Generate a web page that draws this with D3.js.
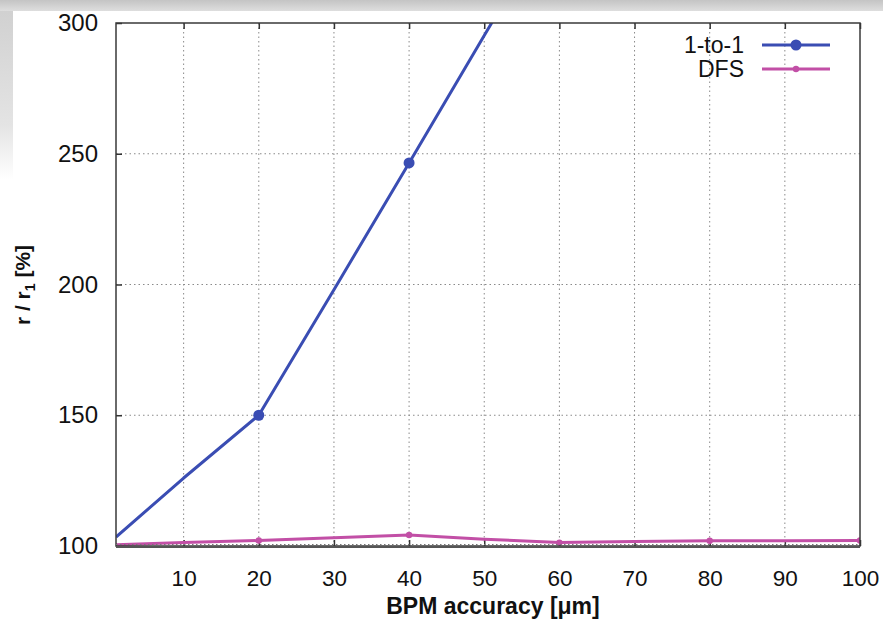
<!DOCTYPE html>
<html>
<head>
<meta charset="utf-8">
<script src="https://cdn.jsdelivr.net/npm/d3@7"></script>
<style>
  html, body { margin: 0; padding: 0; background: #fff; }
  svg { display: block; font-family: "Liberation Sans", Arial, Helvetica, sans-serif; }
</style>
</head>
<body>
<svg id="chart" width="883" height="625"></svg>
<script>
// BPM accuracy in micrometres
const accuracy = [1, 10, 20, 30, 40, 50, 60, 70, 80, 90, 100];
// Relative ratio r / r1 in percent
const oneToOne = [103.4, 126, 150, 198, 246.5, 295.2, 344, 393, 442, 491, 540];
const dfs      = [100.5, 101.3, 102.1, 103.2, 104.2, 102.6, 101.3, 101.7, 102, 102, 102.1];
// Points that carry a marker
const markedX = [20, 40, 60, 80, 100];

const xTicks = [10, 20, 30, 40, 50, 60, 70, 80, 90, 100];
const yTicks = [100, 150, 200, 250, 300];

const seriesNames = ["1-to-1", "DFS"];
const seriesColors = ["#3a4db3", "#c24fa6"];

const svg = d3.select("#chart");
const W = 883, H = 625;
const pLeft = 116, pRight = 860, pTop = 23, pBottom = 546;

// Slide-style backdrop: grey band along the top and a fading band on the left
const defs = svg.append("defs");
const gTop = defs.append("linearGradient").attr("id", "gtop").attr("x1", 0).attr("y1", 0).attr("x2", 0).attr("y2", 1);
gTop.append("stop").attr("offset", 0).attr("stop-color", "#c4c4c4");
gTop.append("stop").attr("offset", 1).attr("stop-color", "#dedede");
const gLeft = defs.append("linearGradient").attr("id", "gleft").attr("x1", 0).attr("y1", 0).attr("x2", 0).attr("y2", 1);
gLeft.append("stop").attr("offset", 0).attr("stop-color", "#cfcfcf");
gLeft.append("stop").attr("offset", 0.7).attr("stop-color", "#e4e4e4");
gLeft.append("stop").attr("offset", 1).attr("stop-color", "#ffffff");
svg.append("rect").attr("x", 0).attr("y", 0).attr("width", 13).attr("height", 180).attr("fill", "url(#gleft)");
svg.append("rect").attr("x", 0).attr("y", 0).attr("width", W).attr("height", 11).attr("fill", "url(#gtop)");

defs.append("clipPath").attr("id", "plotclip")
  .append("rect").attr("x", pLeft).attr("y", pTop).attr("width", pRight - pLeft).attr("height", pBottom - pTop);

const x = d3.scaleLinear().domain([1, 100]).range([pLeft, pRight]);
const y = d3.scaleLinear().domain([100, 300]).range([pBottom, pTop]);

// Dotted grid
const grid = svg.append("g").attr("stroke", "#8a8a8a").attr("stroke-width", 1).attr("stroke-dasharray", "1.5,3");
grid.selectAll("line.v").data(xTicks.filter(d => d < 100)).join("line")
  .attr("class", "v")
  .attr("x1", d => x(d)).attr("x2", d => x(d)).attr("y1", pTop).attr("y2", pBottom);
grid.selectAll("line.h").data(yTicks.filter(d => d > 100 && d < 300)).join("line")
  .attr("class", "h")
  .attr("x1", pLeft).attr("x2", pRight).attr("y1", d => y(d)).attr("y2", d => y(d));

// Axes with inward ticks
const xAxis = svg.append("g").attr("transform", `translate(0,${pBottom})`)
  .call(d3.axisBottom(x).tickValues(xTicks).tickSize(-6).tickPadding(28));
const xAxisTop = svg.append("g").attr("transform", `translate(0,${pTop})`)
  .call(d3.axisTop(x).tickValues(xTicks).tickSize(-6).tickFormat(""));
const yAxis = svg.append("g").attr("transform", `translate(${pLeft},0)`)
  .call(d3.axisLeft(y).tickValues(yTicks).tickSize(-6).tickPadding(18));
[xAxis, xAxisTop, yAxis].forEach(a => {
  a.select(".domain").remove();
  a.selectAll(".tick line").attr("stroke", "#333").attr("stroke-width", 1.5);
});
xAxis.selectAll(".tick text").attr("font-size", 22.5).attr("fill", "#111").attr("dy", "0.55em");
yAxis.selectAll(".tick text").attr("font-size", 24).attr("fill", "#111");

// Series lines
const line = d3.line().x((d, i) => x(accuracy[i])).y(d => y(d));
const plot = svg.append("g").attr("clip-path", "url(#plotclip)");
[oneToOne, dfs].forEach((vals, k) => {
  plot.append("path").datum(vals).attr("d", line)
    .attr("fill", "none").attr("stroke", seriesColors[k]).attr("stroke-width", 3)
    .attr("stroke-linejoin", "round");
});
// Markers
const marks = accuracy.map((a, i) => ({ a, i })).filter(d => markedX.includes(d.a));
plot.selectAll("circle.m1").data(marks).join("circle")
  .attr("class", "m1")
  .attr("cx", d => x(d.a)).attr("cy", d => y(oneToOne[d.i])).attr("r", 5.5)
  .attr("fill", seriesColors[0]);
plot.selectAll("circle.m2").data(marks).join("circle")
  .attr("class", "m2")
  .attr("cx", d => x(d.a)).attr("cy", d => y(dfs[d.i])).attr("r", 3.2)
  .attr("fill", seriesColors[1]);

// Frame
svg.append("rect").attr("x", pLeft).attr("y", pTop).attr("width", pRight - pLeft).attr("height", pBottom - pTop)
  .attr("fill", "none").attr("stroke", "#3a3a3a").attr("stroke-width", 1.5);
svg.append("line").attr("x1", pLeft).attr("x2", pRight).attr("y1", pBottom + 1).attr("y2", pBottom + 1)
  .attr("stroke", "#555").attr("stroke-width", 2);
svg.append("line").attr("x1", pLeft).attr("x2", pRight).attr("y1", pBottom - 1.5).attr("y2", pBottom - 1.5)
  .attr("stroke", "#777").attr("stroke-width", 1).attr("stroke-dasharray", "1.5,2.5");

// Legend
const legend = svg.append("g");
seriesNames.forEach((name, k) => {
  const ly = 45 + k * 24;
  legend.append("text").attr("x", 744).attr("y", ly).attr("dy", "0.35em")
    .attr("text-anchor", "end").attr("font-size", 23).attr("fill", "#111").text(name);
  legend.append("line").attr("x1", 762).attr("x2", 830).attr("y1", ly).attr("y2", ly)
    .attr("stroke", seriesColors[k]).attr("stroke-width", 3);
  legend.append("circle").attr("cx", 796).attr("cy", ly).attr("r", k === 0 ? 5.5 : 3.2)
    .attr("fill", seriesColors[k]);
});

// Axis titles
svg.append("text").attr("x", (pLeft + pRight) / 2 + 5).attr("y", 614)
  .attr("text-anchor", "middle").attr("font-size", 23).attr("font-weight", "bold").attr("fill", "#111")
  .text("BPM accuracy [μm]");
const yt = svg.append("text").attr("transform", "translate(30,285) rotate(-90)")
  .attr("text-anchor", "middle").attr("font-size", 21).attr("font-weight", "bold").attr("fill", "#111");
yt.append("tspan").text("r / r");
yt.append("tspan").attr("font-size", 14).attr("dy", 5).text("1");
yt.append("tspan").attr("dy", -5).text(" [%]");
</script>
</body>
</html>
